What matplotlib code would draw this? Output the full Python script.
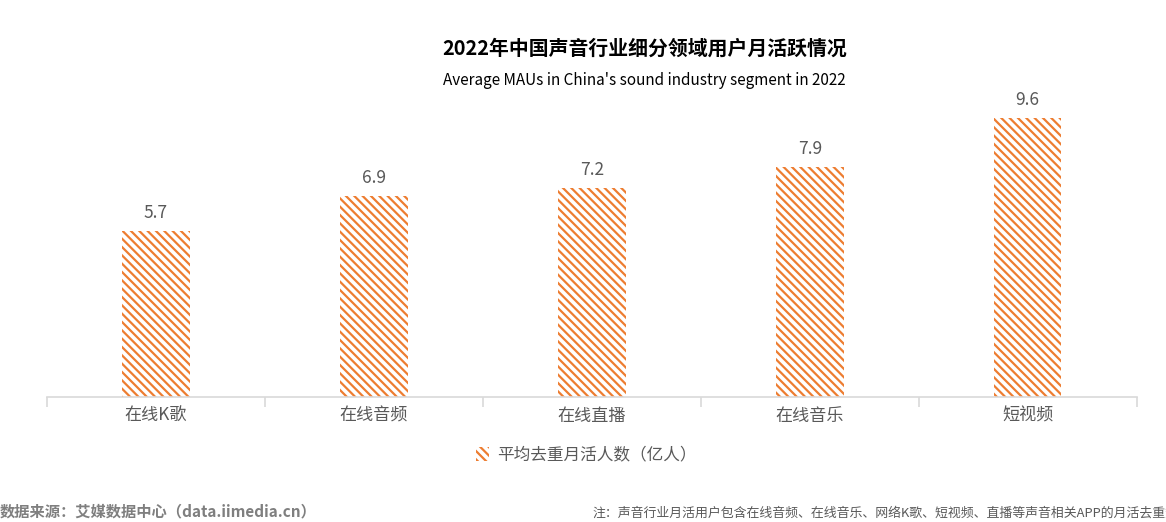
import matplotlib
matplotlib.use("Agg")
import matplotlib.pyplot as plt

plt.rcParams['font.family'] = ['Noto Sans CJK SC', 'DejaVu Sans']
plt.rcParams['hatch.linewidth'] = 1.6
plt.rcParams['hatch.color'] = '#ED7D31'

categories = ["在线K歌", "在线音频", "在线直播", "在线音乐", "短视频"]
values = [5.7, 6.9, 7.2, 7.9, 9.6]
series_name = "平均去重月活人数（亿人）"

orange = '#ED7D31'
grey = '#595959'

fig = plt.figure(figsize=(11.66, 5.22), dpi=100)
ax = fig.add_axes([0.0403, 0.2395, 0.9345, 0.5689])

x = range(len(categories))
bars = ax.bar(x, values, width=0.31, color='white', edgecolor=orange,
              hatch='\\\\\\\\', linewidth=0, label=series_name)

for xi, v in zip(x, values):
    ax.annotate("%.1f" % v, (xi, v), xytext=(0, 18), textcoords='offset pixels',
                ha='center', va='center', fontsize=12.5, color=grey)

ax.set_xlim(-0.5, len(categories) - 0.5)
ax.set_ylim(0, 10.22)
ax.set_yticks([])
for s in ['top', 'right', 'left']:
    ax.spines[s].set_visible(False)
ax.spines['bottom'].set_color('#D9D9D9')
ax.spines['bottom'].set_linewidth(1.2)

ax.set_xticks([i - 0.5 for i in range(len(categories) + 1)])
ax.set_xticklabels([])
ax.set_xticks(list(x), minor=True)
ax.set_xticklabels(categories, minor=True, fontsize=12.3, color=grey)
ax.tick_params(axis='x', which='major', length=7, color='#D9D9D9', width=1.2)
ax.tick_params(axis='x', which='minor', length=0, pad=7)

fig.text(0.553, 0.908, "2022年中国声音行业细分领域用户月活跃情况", ha='center', va='center',
         fontsize=14.3, fontweight='bold', color='black')
fig.text(0.553, 0.845, "Average MAUs in China's sound industry segment in 2022",
         ha='center', va='center', fontsize=11, color='black')

leg = fig.legend(loc='center', bbox_to_anchor=(0.503, 0.128), frameon=False,
                 fontsize=12, handlelength=0.8, handleheight=0.9, handletextpad=0.5,
                 labelcolor=grey)

fig.text(0.0, 0.021, "数据来源：艾媒数据中心（data.iimedia.cn）", ha='left', va='center',
         fontsize=11, fontweight='bold', color='#7F7F7F')
fig.text(0.508, 0.017, "注：声音行业月活用户包含在线音频、在线音乐、网络K歌、短视频、直播等声音相关APP的月活去重数据",
         ha='left', va='center', fontsize=9.3, color=grey)

fig.savefig("out.png", dpi=100)
